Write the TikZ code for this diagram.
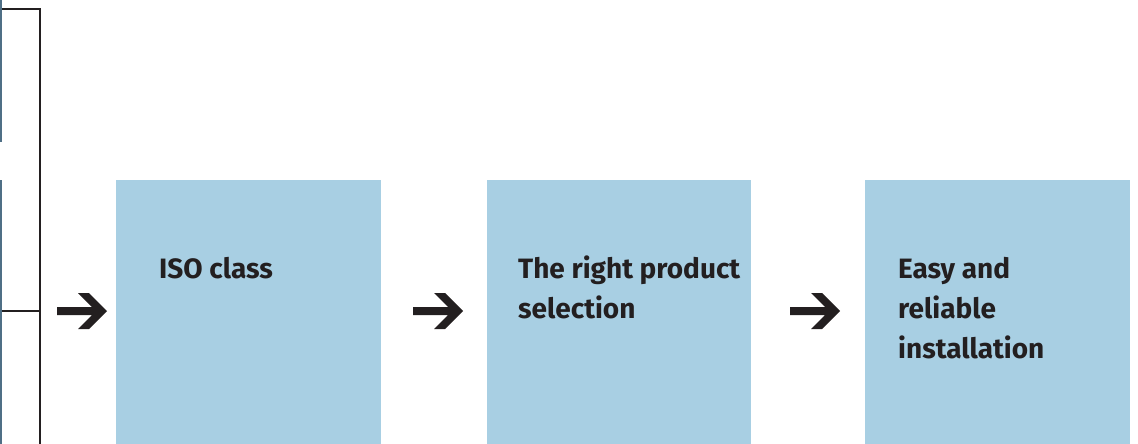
\documentclass[tikz,border=0pt]{standalone}
\usepackage{fontspec}
\setmainfont{Fira Sans}
\definecolor{boxblue}{HTML}{A8CFE3}
\definecolor{ink}{HTML}{231F20}
\definecolor{photo}{HTML}{4F6F86}
\begin{document}
\begin{tikzpicture}[x=1pt,y=-1pt,
  stepbox/.style={fill=boxblue,draw=none,inner sep=0pt,outer sep=0pt},
  steptext/.style={anchor=base west,inner sep=0pt,
    font=\fontsize{28}{40}\selectfont\bfseries,text=ink},
  bracket/.style={draw=ink,line width=2.2pt},
  bigarrow/.style={fill=ink,draw=none}]
\useasboundingbox (0,0) rectangle (1138,444);
% photo sliver at left edge
\fill[photo] (0,0) rectangle (1.6,142);
\fill[photo] (0,180) rectangle (1.6,444);
% bracket
\coordinate (bt) at (2,9);
\coordinate (bc) at (40,9);
\coordinate (bb) at (40,444);
\coordinate (bm) at (2,311);
\coordinate (bmr) at (40,311);
\draw[bracket] (bt) -- (bc) -- (bb);
\draw[bracket] (bm) -- (bmr);
% boxes
\path[stepbox] (116,180) rectangle (381,444);
\path[stepbox] (487,180) rectangle (751,444);
\path[stepbox] (865,180) rectangle (1130,444);
% texts
\node[steptext] (t1) at (159,278) {ISO class};
\node[steptext] (t2a) at (518,278) {The right product};
\node[steptext] (t2b) at (518,318) {selection};
\node[steptext] (t3a) at (898,278) {Easy and};
\node[steptext] (t3b) at (898,318) {reliable};
\node[steptext] (t3c) at (898,358) {installation};
% arrows
\foreach \dx in {0,356,733}{
  \fill[bigarrow,xshift=\dx] (57,307)--(92,307)--(78,293)--(89,293)--(107,311)--(89,329)--(78,329)--(92,315)--(57,315)--cycle;
}
\end{tikzpicture}
\end{document}
